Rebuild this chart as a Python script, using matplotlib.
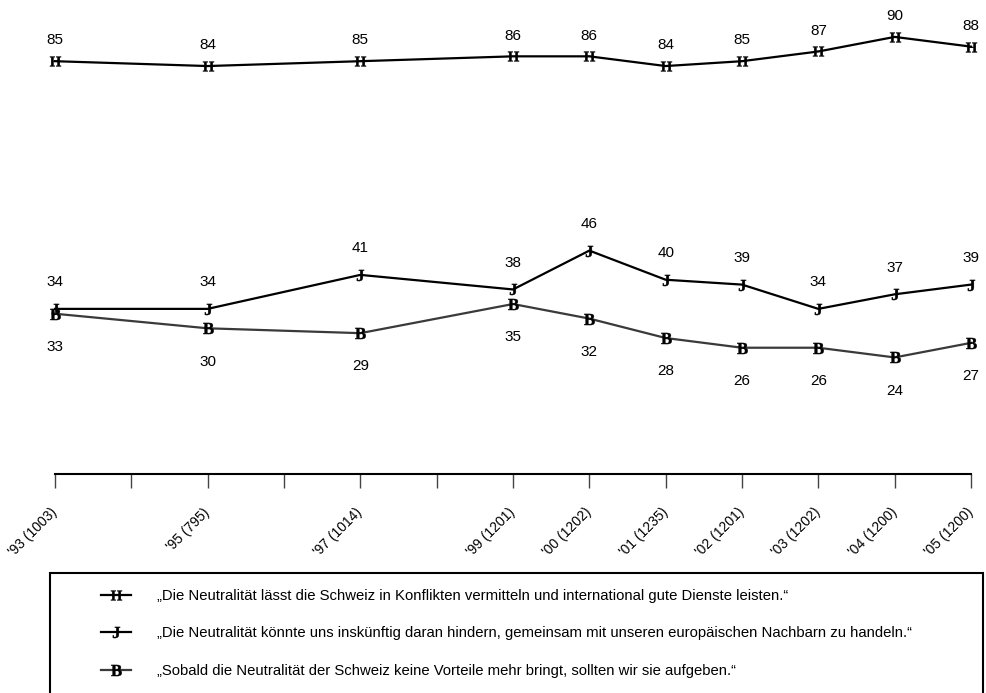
import matplotlib
matplotlib.use("Agg")
import matplotlib.pyplot as plt
from matplotlib.patches import Rectangle

plt.rcParams['font.family'] = ['Liberation Sans', 'DejaVu Sans']
plt.rcParams['mathtext.fontset'] = 'custom'
plt.rcParams['mathtext.bf'] = 'Liberation Serif:bold'

# survey years and sample sizes
years = [1993, 1995, 1997, 1999, 2000, 2001, 2002, 2003, 2004, 2005]
sample_n = [1003, 795, 1014, 1201, 1202, 1235, 1201, 1202, 1200, 1200]

vermitteln = [85, 84, 85, 86, 86, 84, 85, 87, 90, 88]
hindern = [34, 34, 41, 38, 46, 40, 39, 34, 37, 39]
aufgeben = [33, 30, 29, 35, 32, 28, 26, 26, 24, 27]

labels = [
    "\u201eDie Neutralit\u00e4t l\u00e4sst die Schweiz in Konflikten vermitteln und international gute Dienste leisten.\u201c",
    "\u201eDie Neutralit\u00e4t k\u00f6nnte uns insk\u00fcnftig daran hindern, gemeinsam mit unseren europ\u00e4ischen Nachbarn zu handeln.\u201c",
    "\u201eSobald die Neutralit\u00e4t der Schweiz keine Vorteile mehr bringt, sollten wir sie aufgeben.\u201c",
]

fig = plt.figure(figsize=(9.86, 6.93), dpi=100)
ax = fig.add_axes([55 / 986, 219 / 693, 916 / 986, 474 / 693])

series = [
    (vermitteln, 'H', 'black', 15),
    (hindern, 'J', 'black', 19),
    (aufgeben, 'B', '#3a3a3a', -24),
]
for (vals, letter, col, off), lab in zip(series, labels):
    ax.plot(years, vals, color=col, lw=1.6, marker=r'$\mathbf{%s}$' % letter,
            markersize=8, markeredgewidth=0.3, markerfacecolor='black',
            markeredgecolor='black', clip_on=False, label=lab, zorder=3)
    for x, v in zip(years, vals):
        ax.annotate(str(v), (x, v), xytext=(0, off), textcoords='offset points',
                    ha='center', va='center', fontsize=11)

ax.set_xlim(1993, 2005)
ax.set_ylim(0, 97.6)
ax.set_yticks([])
for s in ['top', 'right', 'left']:
    ax.spines[s].set_visible(False)
ax.spines['bottom'].set_linewidth(1.5)

all_years = list(range(1993, 2006))
tick_labels = []
for y in all_years:
    if y in years:
        tick_labels.append("'%02d (%d)" % (y % 100, sample_n[years.index(y)]))
    else:
        tick_labels.append("")
ax.set_xticks(all_years)
ax.set_xticklabels(tick_labels, rotation=45, ha='right', va='center',
                   rotation_mode='anchor', fontsize=10)
ax.tick_params(axis='x', length=10, width=1, color='#444444', pad=16)

leg = fig.legend(loc='upper left', bbox_to_anchor=(101 / 986, 1 - 589 / 693),
                 frameon=False, fontsize=10.7, handlelength=2.0, handletextpad=1.8,
                 labelspacing=1.58, borderpad=0, borderaxespad=0)

fig.patches.append(Rectangle((50 / 986, -0.05), 933 / 986, 0.05 + (693 - 573) / 693,
                             transform=fig.transFigure, fill=False,
                             edgecolor='black', lw=1.5, clip_on=False))

fig.savefig('out.png', dpi=100)
